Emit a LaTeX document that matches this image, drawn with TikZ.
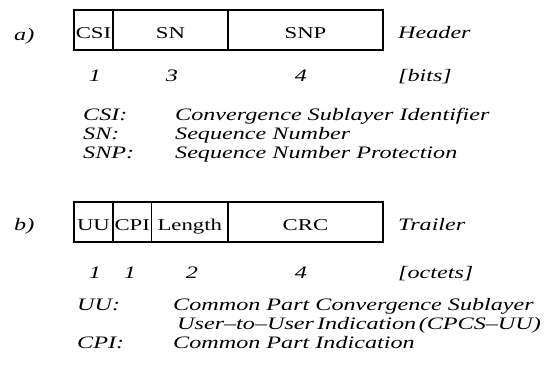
\documentclass[tikz,border=0pt]{standalone}
\usepackage{fontspec}
\setmainfont[FakeStretch=1.38]{Liberation Serif}
\begin{document}
\begin{tikzpicture}[x=1pt,y=-1pt,
  txt/.style={inner sep=0pt, font=\fontsize{17.5}{20}\selectfont\itshape},
  lbl/.style={txt, anchor=base west},
  num/.style={txt, anchor=base},
  field/.style={draw, line width=1.6pt, inner sep=0pt, minimum height=40pt,
    text height=16pt, text depth=0pt, font=\fontsize{16.5}{20}\selectfont}]
  \useasboundingbox (0,0) rectangle (544,368);

  % (a) header layout
  \node[lbl] (la) at (14,40) {a)};
  \node[field, minimum width=39pt]  (csi) at (93.5,30)  {CSI};
  \node[field, minimum width=115pt] (sn)  at (170.5,30) {SN};
  \node[field, minimum width=155pt] (snp) at (305.5,30) {SNP};
  \node[lbl] (hdr) at (398,38) {Header};
  \node[num] (ncsi) at (95,81)  {1};
  \node[num] (nsn)  at (172,81) {3};
  \node[num] (nsnp) at (301,81) {4};
  \node[lbl] (bits) at (398,81) {[bits]};

  \node[lbl] (kcsi) at (83,120) {CSI:};
  \node[lbl] (dcsi) at (175,120) {Convergence Sublayer Identifier};
  \node[lbl] (ksn)  at (83,139) {SN:};
  \node[lbl] (dsn)  at (175,139) {Sequence Number};
  \node[lbl] (ksnp) at (83,158) {SNP:};
  \node[lbl] (dsnp) at (175,158) {Sequence Number Protection};

  % (b) trailer layout
  \node[lbl] (lb) at (14,230) {b)};
  \node[field, minimum width=39pt]   (uu)  at (93.5,222)  {UU};
  \node[field, minimum width=38.5pt] (cpi) at (132.25,222) {CPI};
  \node[field, minimum width=76.5pt] (len) at (189.75,222) {Length};
  \node[field, minimum width=155pt]  (crc) at (305.5,222) {CRC};
  \node[lbl] (trl) at (398,230) {Trailer};
  \node[num] (nuu)  at (95,278)  {1};
  \node[num] (ncpi) at (130,278) {1};
  \node[num] (nlen) at (192,278) {2};
  \node[num] (ncrc) at (301,278) {4};
  \node[lbl] (oct) at (398,278) {[octets]};

  \node[lbl] (kuu)  at (77,310)  {UU:};
  \node[lbl] (duu)  at (173,310) {Common Part Convergence Sublayer};
  \node[lbl] (duu2) at (177,329.5) {User--to--User\hspace{3pt}Indication\hspace{2.5pt}(CPCS--UU)};
  \node[lbl] (kcpi) at (77,348)  {CPI:};
  \node[lbl] (dcpi) at (173,348) {Common Part Indication};
\end{tikzpicture}
\end{document}
